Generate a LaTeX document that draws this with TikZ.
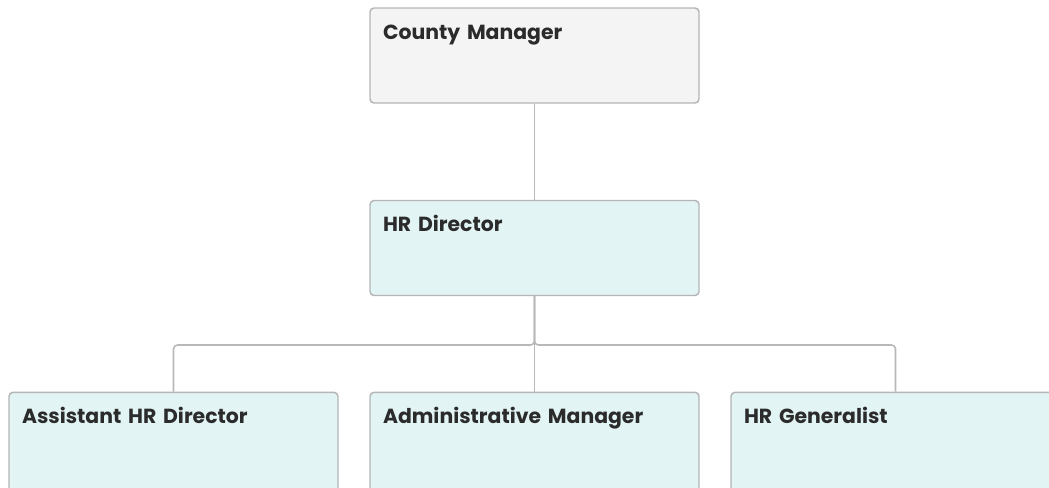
\documentclass[tikz,border=0pt]{standalone}
\usepackage{fontspec}
\setmainfont{Poppins}
\usepackage{tikz}
\definecolor{boxline}{HTML}{B5B5B5}
\definecolor{wireline}{HTML}{B8B8B8}
\definecolor{topfill}{HTML}{F4F4F4}
\definecolor{unitfill}{HTML}{E2F4F4}
\definecolor{labeltext}{HTML}{2B2B2B}

\begin{document}
\begin{tikzpicture}[x=0.75pt,y=-0.75pt,
  post/.style={draw=boxline, line width=1.1pt, rounded corners=3pt, fill=unitfill,
    inner xsep=9.75pt, inner ysep=8pt, text width=227.25pt, align=left,
    text height=15.25pt, text depth=40pt, font=\bfseries\fontsize{15.3}{18}\selectfont,
    text=labeltext},
  lowpost/.style={post, text depth=44pt},
  wire/.style={draw=wireline, line width=1.2pt, rounded corners=3pt}]
\useasboundingbox (0,0) rectangle (1049,487);
\clip (0,0) rectangle (1049,487);

\node[post, fill=topfill] (CM) at (534.5,55.5) {County Manager};
\node[post] (HRD) at (534.5,248) {HR Director};
\node[lowpost] (AHR) at (173.5,442.5) {Assistant HR Director};
\node[lowpost] (AM) at (534.5,442.5) {Administrative Manager};
\node[lowpost] (HRG) at (895.5,442.5) {HR Generalist};

\coordinate (split) at (534.5,345);

\draw[wire] (CM) -- (HRD);
\draw[wire] (HRD.south) -- (AM.north);
\draw[wire] (HRD.south) -- (split) -| (AHR.north);
\draw[wire] (HRD.south) -- (split) -| (HRG.north);
\end{tikzpicture}
\end{document}
